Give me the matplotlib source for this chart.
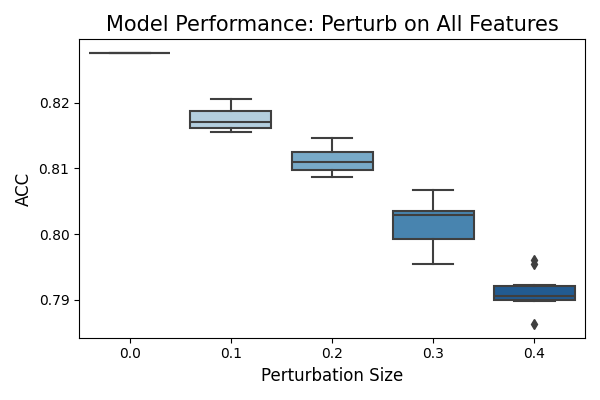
import matplotlib
matplotlib.use("Agg")
import matplotlib.pyplot as plt
import seaborn as sns

sizes = ["0.0", "0.1", "0.2", "0.3", "0.4"]
acc_00 = [0.8276, 0.8276, 0.8276, 0.8276, 0.8276]
acc_01 = [0.8155, 0.8162, 0.8171, 0.8188, 0.8206]
acc_02 = [0.8087, 0.8098, 0.8110, 0.8125, 0.8147]
acc_03 = [0.7954, 0.7993, 0.8029, 0.8036, 0.8067]
acc_04 = [0.7863, 0.7898, 0.7900, 0.7900, 0.7905, 0.7907, 0.7917, 0.7922, 0.7954, 0.7960]
data = [acc_00, acc_01, acc_02, acc_03, acc_04]

pal = [sns.desaturate(c, 0.75) for c in sns.color_palette("Blues", len(sizes))]
line_c = "#3f3f3f"

fig, ax = plt.subplots(figsize=(6, 4), dpi=100)
bp = ax.boxplot(data, positions=range(len(sizes)), widths=0.8, patch_artist=True,
                boxprops=dict(edgecolor=line_c, linewidth=1.5),
                medianprops=dict(color=line_c, linewidth=1.5),
                whiskerprops=dict(color=line_c, linewidth=1.5),
                capprops=dict(color=line_c, linewidth=1.5),
                flierprops=dict(marker="d", markerfacecolor=line_c, markeredgecolor=line_c,
                                markersize=5))
for patch, c in zip(bp["boxes"], pal):
    patch.set_facecolor(c)
ax.set_xticks(range(len(sizes)))
ax.set_xticklabels(sizes)
ax.set_xlim(-0.5, len(sizes) - 0.5)
ax.set_yticks([0.79, 0.80, 0.81, 0.82])
ax.set_title("Model Performance: Perturb on All Features", fontsize=15)
ax.set_xlabel("Perturbation Size", fontsize=12)
ax.set_ylabel("ACC", fontsize=12)
fig.tight_layout()
fig.savefig("out.png")
